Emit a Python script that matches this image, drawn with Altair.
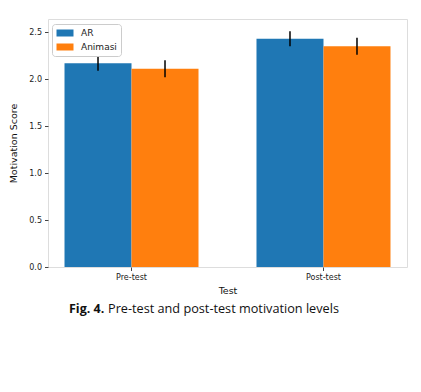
import altair as alt
import pandas as pd

tests = ["Pre-test", "Post-test"]
groups = ["AR", "Animasi"]
ar_means = [2.17, 2.43]
animasi_means = [2.11, 2.35]
ar_err = [0.08, 0.08]
animasi_err = [0.09, 0.09]
colors = ["#1f77b4", "#ff7f0e"]

rows = []
for i, t in enumerate(tests):
    rows.append({"Test": t, "Group": "AR", "mean": ar_means[i], "err": ar_err[i]})
    rows.append({"Test": t, "Group": "Animasi", "mean": animasi_means[i], "err": animasi_err[i]})
df = pd.DataFrame(rows)

W, H = 359, 248

xenc = alt.X("Test:N", sort=tests, title="Test",
             scale=alt.Scale(paddingInner=0.302, paddingOuter=0.086),
             axis=alt.Axis(labelAngle=0, domain=False, tickColor="#444", tickSize=3.5,
                           labelColor="#222", labelFont="DejaVu Sans", labelFontSize=8,
                           titleFont="DejaVu Sans", titleFontSize=9.5, titleFontWeight="normal",
                           titleColor="#111", titlePadding=4, labelPadding=3))
xoff = alt.XOffset("Group:N", sort=groups, scale=alt.Scale(paddingInner=0, paddingOuter=0))
yenc = alt.Y("mean:Q", title="Motivation Score",
             scale=alt.Scale(domain=[0, 2.64], nice=False, zero=True),
             axis=alt.Axis(values=[0, 0.5, 1.0, 1.5, 2.0, 2.5], format=".1f", grid=False,
                           domain=False, tickColor="#444", tickSize=3.5,
                           labelColor="#222", labelFont="DejaVu Sans", labelFontSize=8,
                           titleFont="DejaVu Sans", titleFontSize=9.5, titleFontWeight="normal",
                           titleColor="#111", titlePadding=10, labelPadding=3))

base = alt.Chart(df)

bars = base.mark_bar().encode(
    x=xenc, xOffset=xoff, y=yenc,
    color=alt.Color("Group:N", sort=groups, title=None,
                    scale=alt.Scale(domain=groups, range=colors),
                    legend=alt.Legend(orient="none", legendX=4, legendY=5,
                                      symbolType="M-1.7,-0.7H1.7V0.7H-1.7Z", symbolSize=100,
                                      symbolStrokeWidth=0, labelFont="DejaVu Sans",
                                      labelFontSize=9, labelColor="#222",
                                      padding=4, rowPadding=4, strokeColor="#ccc",
                                      fillColor="white", cornerRadius=3,
                                      labelOffset=11, symbolOffset=4)),
)

errs = base.transform_calculate(
    lo="datum.mean - datum.err", hi="datum.mean + datum.err"
).mark_rule(color="black", strokeWidth=1.5).encode(
    x=alt.X("Test:N", sort=tests), xOffset=xoff,
    y=alt.Y("lo:Q"), y2="hi:Q",
)

cap1 = alt.Chart(pd.DataFrame({"t": ["Fig. 4."]})).mark_text(
    align="left", baseline="alphabetic", fontWeight="bold", fontSize=12.5,
    font="Open Sans", color="#111"
).encode(text="t:N", x=alt.value(21), y=alt.value(294))

cap2 = alt.Chart(pd.DataFrame({"t": ["Pre-test and post-test motivation levels"]})).mark_text(
    align="left", baseline="alphabetic", fontSize=12.7, font="Open Sans", color="#111"
).encode(text="t:N", x=alt.value(60), y=alt.value(294))

chart = alt.layer(bars, errs, cap1, cap2).properties(
    width=W, height=H,
    autosize=alt.AutoSizeParams(type="none"),
    padding={"left": 40, "top": 11, "right": 6, "bottom": 90},
).configure_view(stroke="#444", strokeWidth=1).configure(background="white")

chart.save("out.html", embed_options={"renderer": "svg", "actions": False})
